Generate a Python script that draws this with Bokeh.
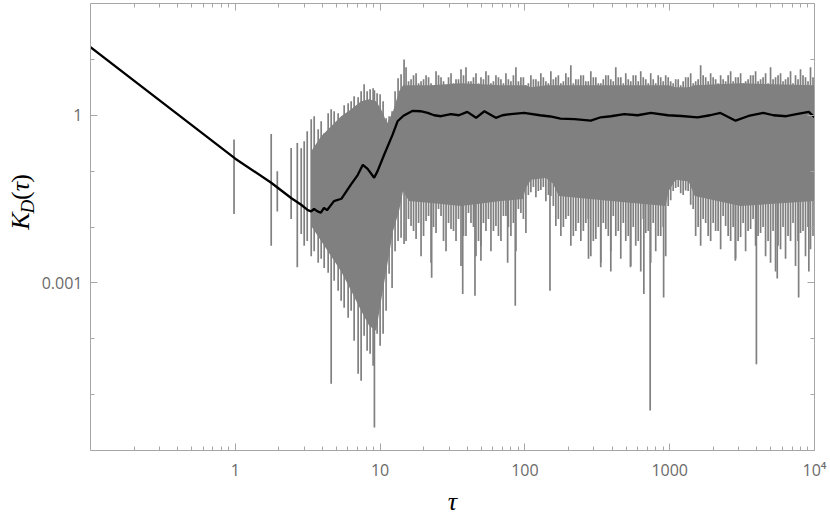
import math
from bokeh.plotting import figure
from bokeh.layouts import row
from bokeh.models import LogAxis, FixedTicker, Range1d, CustomJSTickFormatter
from bokeh.core.properties import value
from bokeh.embed import file_html
from bokeh.resources import INLINE

# ---- smoothed (black) curve K_D(tau) ----
avg_tau = [0.1, 0.3, 1.0, 1.77, 2.43, 2.85, 3.17, 3.34, 3.5, 3.7, 3.9, 4.1, 4.3, 4.8, 5.4,
           6.3, 7.0, 7.6, 8.2, 9.1, 9.6, 10.7, 12.2, 13.2, 14.5, 16.8, 19, 21.3, 23.6, 26.3,
           30.8, 35, 40, 46, 52.5, 63, 70, 80, 98.6, 127, 150, 176, 220, 285, 334, 392,
           485, 600, 742, 970, 1200, 1560, 1900, 2240, 2850, 3500, 4430, 5200, 6380, 7500,
           9130, 10000]
avg_K = [16.5, 1.85, 0.167, 0.062, 0.033, 0.025, 0.020, 0.019, 0.021, 0.019, 0.018, 0.022,
         0.020, 0.029, 0.032, 0.058, 0.085, 0.13, 0.11, 0.076, 0.10, 0.20, 0.45, 0.78, 0.98,
         1.2, 1.18, 1.1, 1.0, 0.96, 1.05, 1.0, 1.15, 0.9, 1.18, 0.9, 1.0, 1.05, 1.1, 1.0,
         0.95, 0.87, 0.85, 0.8, 0.92, 0.96, 1.05, 1.0, 1.1, 1.0, 0.97, 0.92, 1.0, 1.1, 0.8,
         0.97, 1.1, 1.0, 0.96, 1.05, 1.15, 0.92]

# ---- raw (gray) data: dense core of the fluctuations ----
band_tau = [3.344, 3.918, 4.594, 5.383, 6.31, 7.396, 8.40, 9.385, 10.16, 11.17, 12.29, 13.52,
            14.41, 15.8, 22.5, 36.2, 68.3, 96.9, 101.6, 110, 139.6, 156, 171.6, 392, 938, 984,
            1100, 1352, 1487, 3089, 10000]
band_hi = [0.228, 0.422, 0.637, 0.96, 1.28, 1.78, 1.93, 1.78, 1.28, 0.72, 1.18, 2.68, 3.43,
           3.43, 3.43, 3.73, 3.43, 3.43, 3.43, 3.16, 3.43, 3.43, 3.43, 3.43, 3.43, 3.43, 3.16,
           3.16, 3.43, 3.73, 3.43]
band_lo = [0.0104, 0.0056, 0.0030, 0.0016, 7.2e-4, 3.16e-4, 1.71e-4, 1.39e-4, 4.77e-4, 0.0020,
           0.0085, 0.0193, 0.0439, 0.0291, 0.0268, 0.0237, 0.0291, 0.0316, 0.050, 0.070, 0.075,
           0.060, 0.0358, 0.0291, 0.0237, 0.0439, 0.070, 0.065, 0.0358, 0.0237, 0.0291]

# ---- raw (gray) data: individual excursions (tau, low end, high end) ----
pre_tau = [0.98, 1.77, 1.95, 2.43, 2.68]
pre_lo = [0.017, 0.0046, 0.019, 0.0139, 0.0019]
pre_hi = [0.37, 0.46, 0.1, 0.26, 0.32]
rise_tau = [2.853, 2.991, 3.138, 3.344, 3.506, 3.737, 3.918, 4.110, 4.379, 4.594, 4.818, 5.133,
            5.383, 5.647, 6.016, 6.310, 6.618, 7.051, 7.396, 7.757, 8.136, 8.532, 8.949, 9.135,
            9.535, 10.0, 10.49, 11.0, 11.54, 12.1, 12.69, 13.31, 13.96, 14.64]
rise_hi = [0.257, 0.343, 0.518, 0.848, 0.960, 0.562, 0.781, 0.477, 1.086, 1.28, 1.18, 1.086,
           0.781, 1.51, 1.64, 1.78, 2.18, 2.10, 2.68, 3.58, 2.68, 2.91, 3.04, 2.79,
           2.47, 2.37, 1.78, 0.884, 0.960, 1.18, 2.68, 4.58, 5.40, 10.0]
rise_lo = [0.0075, 0.0046, 0.0056, 0.0030, 0.0037, 0.0023, 0.0027, 0.00185, 0.00151, 1.57e-5,
           0.00109, 7.2e-4, 4.77e-4, 3.58e-4, 2.37e-4, 3.16e-4, 9.2e-5, 2.37e-5, 1.78e-5,
           1.13e-4, 6.1e-5, 5.4e-5, 3.3e-5, 2.58e-6, 1.23e-4, 7.5e-5, 1.23e-4, 3.16e-4,
           1.45e-3, 8.1e-4, 0.0037, 0.0056, 0.0064, 0.00497]
plat_tau = [15.11, 16.36, 17.72, 19.18, 20.77, 22.48, 24.34, 26.35, 28.53, 30.89, 33.44, 36.20,
            39.19, 42.43, 45.94, 49.73, 53.83, 58.28, 63.10, 68.31, 73.95, 80.06, 86.68, 93.84,
            101.6, 110.0, 119.1, 128.9, 139.6, 151.1, 163.6, 177.2, 191.8, 207.6, 224.8, 243.4,
            263.5, 285.3, 308.9, 334.4, 362.0, 391.9, 424.3, 459.4, 497.3, 538.3, 582.8, 631.0,
            683.1, 739.5, 800.6, 866.8, 938.4, 1016, 1100, 1191, 1289, 1396, 1511, 1636, 1772,
            1918, 2076, 2248, 2434, 2635, 2853, 3089, 3344, 3620, 3919, 4243, 4594, 4973, 5383,
            5828, 6310, 6831, 7395, 8006, 8668, 9384]
plat_hi = [7.20, 4.39, 5.62, 4.05, 5.18, 3.73, 6.11, 4.77, 3.43, 5.62, 4.39, 6.63,
           7.20, 4.05, 5.62, 4.77, 6.11, 3.73, 5.18, 4.39, 5.62, 4.05, 7.20, 4.77,
           3.43, 5.18, 4.39, 5.62, 4.05, 6.11, 4.77, 3.73, 5.62, 7.81, 4.39, 5.18,
           4.05, 6.11, 4.77, 3.73, 5.18, 4.39, 7.20, 4.77, 5.62, 4.05, 5.18, 6.11,
           4.39, 5.62, 3.73, 4.77, 5.18, 4.05, 4.39, 3.43, 4.77, 5.62, 4.05, 7.81, 4.77,
           5.62, 4.39, 5.18, 4.05, 6.11, 4.77, 5.62, 4.05, 5.18, 6.11, 4.39, 5.62, 7.20, 4.77,
           5.62, 4.39, 6.11, 5.18, 6.63, 4.77, 7.20]
plat_lo = [0.0056, 0.0104, 0.0061, 0.0030, 0.0128, 0.0023, 0.0078, 0.0157, 0.0037, 0.0092,
           0.0056, 0.0020, 0.0069, 0.0118, 0.0030, 0.0046, 0.0085, 0.0037, 0.0104, 0.0056,
           0.0157, 0.0069, 0.0037, 0.0178, 0.0078, 0.0420, 0.0340, 0.0460, 0.0290, 0.0360,
           0.0104, 0.0069, 0.0139, 0.0046, 0.0085, 0.0056, 0.0118, 0.0030, 0.0061, 0.0023,
           0.0092, 0.0037, 0.0069, 0.0027, 0.0056, 0.0020, 0.0046, 0.0016, 0.0078, 0.0023,
           0.0037, 0.0069, 0.0030, 0.0300, 0.0500, 0.0400, 0.0450, 0.0250, 0.0069, 0.0046,
           0.0118, 0.0056, 0.0085, 0.0040, 0.0104, 0.0056, 0.0027, 0.0066, 0.0037, 0.0092,
           0.0046, 0.0078, 0.0030, 0.0023, 0.0016, 0.0040, 0.0027, 0.0056, 0.0020, 0.0078,
           0.0030, 0.0040]
# second, interleaved set of plateau excursions
plat2_tau = [15.72, 17.02, 18.44, 19.96, 21.61, 23.39, 25.33, 27.42, 29.69, 32.14, 34.79, 37.67,
             40.78, 44.15, 47.80, 51.74, 56.01, 60.64, 65.66, 71.08, 76.94, 83.30, 90.19, 97.64,
             105.7, 114.5, 123.9, 134.1, 145.3, 157.2, 170.2, 184.4, 199.6, 216.0, 233.9, 253.3,
             274.2, 296.9, 321.4, 347.9, 376.7, 407.8, 441.5, 478.0, 517.4, 560.1, 606.4, 656.6,
             710.8, 769.5, 833.0, 901.9, 976.4, 1057, 1145, 1239, 1341, 1453, 1572, 1702, 1844,
             1996, 2160, 2339, 2533, 2742, 2969, 3214, 3479, 3767, 4078, 4415, 4780, 5174, 5601,
             6064, 6566, 7108, 7695, 8330, 9019, 9764]
plat2_hi = [4.05, 5.18, 3.73, 4.39, 4.77, 3.43, 5.18, 4.05, 4.77, 3.73, 4.39, 5.18,
            4.05, 4.77, 3.73, 4.39, 5.18, 4.05, 4.77, 3.73, 4.39, 5.18, 4.05, 4.77,
            3.73, 4.39, 4.05, 4.77, 3.73, 4.39, 5.18, 4.05, 4.77, 3.73, 4.39, 5.18,
            4.05, 4.77, 3.73, 4.39, 5.18, 4.05, 4.77, 3.73, 4.39, 5.18, 4.05, 4.77,
            3.73, 4.39, 5.18, 4.05, 4.77, 3.73, 4.39, 4.05, 4.77, 3.73, 4.39, 5.18, 4.05,
            4.77, 3.73, 4.39, 5.18, 4.05, 4.77, 3.73, 4.39, 5.18, 4.05, 4.77, 3.73, 4.39, 5.18,
            4.05, 4.77, 3.73, 4.39, 5.18, 4.05, 4.77]
plat2_lo = [0.0139, 0.0085, 0.0118, 0.0069, 0.0157, 0.0100, 0.0210, 0.0056, 0.0118, 0.0085,
            0.0139, 0.0069, 0.0178, 0.0100, 0.0056, 0.0118, 0.0139, 0.0085, 0.0069, 0.0157,
            0.0100, 0.0118, 0.0210, 0.0139, 0.0373, 0.0518, 0.0439, 0.0518, 0.0373, 0.0237,
            0.0139, 0.0100, 0.0157, 0.0069, 0.0118, 0.0085, 0.0139, 0.0056, 0.0100, 0.0118,
            0.0069, 0.0157, 0.0085, 0.0118, 0.0069, 0.0100, 0.0056, 0.0139, 0.0085, 0.0118,
            0.0069, 0.0100, 0.0237, 0.0439, 0.0518, 0.0373, 0.0439, 0.0210, 0.0100, 0.0139,
            0.0069, 0.0118, 0.0085, 0.0157, 0.0069, 0.0100, 0.0056, 0.0118, 0.0085, 0.0139,
            0.0069, 0.0100, 0.0056, 0.0085, 0.0046, 0.0100, 0.0069, 0.0118, 0.0056, 0.0085,
            0.0100, 0.0069]
deep_tau = [22.7, 37.2, 45.2, 49.7, 76, 85.8, 149, 275, 334, 392, 536, 663, 733, 908, 2840,
            3970, 5530, 7770, 9140]
deep_lo = [0.00124, 6.3e-4, 5.9e-4, 0.0025, 0.0023, 3.9e-4, 7.2e-4, 0.0027, 0.0019, 0.0016,
           0.0019, 6.3e-4, 5.2e-6, 5.5e-4, 0.0025, 3.5e-5, 0.0012, 5.5e-4, 0.0016]

# ---- ticks ----
x_ticks = [1, 10, 100, 1000, 10000]
x_tick_labels = ["1", "10", "100", "1000", "10\u2074"]
y_ticks = [0.001, 1]
y_tick_labels = ["0.001", "1"]
x_minor = [k * 10.0 ** e for e in range(-1, 4) for k in range(2, 10)]
y_minor = [1e-5, 1e-4, 0.01, 0.1, 10]

GRAY = "#808080"
FRAME = "#a6a6a6"
LABEL = "#6a6a6a"
SERIF = "Liberation Serif"

p = figure(width=794, height=518, x_axis_type="log", y_axis_type="log",
           x_range=Range1d(0.1, 1e4), y_range=Range1d(1e-6, 100),
           output_backend="svg", toolbar_location=None,
           min_border_left=54, min_border_right=16, min_border_top=3, min_border_bottom=68)
p.grid.visible = False
p.outline_line_color = None

p.varea(x=band_tau, y1=band_lo, y2=band_hi, fill_color=GRAY, fill_alpha=1.0)
sp_tau = pre_tau + rise_tau + plat_tau + plat2_tau + deep_tau
sp_lo = pre_lo + rise_lo + plat_lo + plat2_lo + deep_lo
sp_hi = pre_hi + rise_hi + plat_hi + plat2_hi + [0.5] * len(deep_tau)
p.segment(x0=sp_tau, y0=sp_lo, x1=sp_tau, y1=sp_hi, line_color=GRAY, line_width=1.7)
p.line(avg_tau, avg_K, line_color="black", line_width=2.3)

def fmt(tks, labels):
    return CustomJSTickFormatter(args=dict(tk=tks, lb=labels), code="""
        for (let i = 0; i < tk.length; i++) {
            if (Math.abs(Math.log10(tk[i]) - Math.log10(tick)) < 1e-6) return lb[i];
        }
        return "";
    """)

def style(ax, show_labels):
    ax.axis_line_color = FRAME
    ax.axis_line_width = 1
    ax.major_tick_line_color = FRAME
    ax.minor_tick_line_color = FRAME
    ax.major_tick_in = 7
    ax.major_tick_out = 0
    ax.minor_tick_in = 4
    ax.minor_tick_out = 0
    ax.major_label_text_color = LABEL
    ax.major_label_text_font = "Open Sans"
    if show_labels:
        ax.major_label_text_font_size = "16px"
        ax.major_label_standoff = 8
    else:
        ax.major_label_text_font_size = "0px"
        ax.major_label_standoff = 0

xb = p.xaxis[0]
xb.ticker = FixedTicker(ticks=x_ticks, minor_ticks=x_minor)
xb.formatter = fmt(x_ticks, x_tick_labels)
style(xb, True)
xb.axis_label = "\u03c4"
xb.axis_label_text_font = SERIF
xb.axis_label_text_font_style = "italic"
xb.axis_label_text_font_size = "26px"
xb.axis_label_text_color = "black"
xb.axis_label_standoff = 3

yl = p.yaxis[0]
yl.ticker = FixedTicker(ticks=y_ticks, minor_ticks=y_minor)
yl.formatter = fmt(y_ticks, y_tick_labels)
style(yl, True)

xt = LogAxis(ticker=FixedTicker(ticks=x_ticks, minor_ticks=x_minor),
             formatter=fmt(x_ticks, ["", "", "", "", ""]))
style(xt, False)
p.add_layout(xt, "above")

yr = LogAxis(ticker=FixedTicker(ticks=y_ticks, minor_ticks=y_minor),
             formatter=fmt(y_ticks, ["", ""]))
style(yr, False)
p.add_layout(yr, "right")

# narrow panel carrying the rotated y-axis title K_D(tau); its data units are pixels
lab = figure(width=36, height=518, x_range=Range1d(0, 36), y_range=Range1d(0, 518),
             output_backend="svg", toolbar_location=None,
             x_axis_location=None, y_axis_location=None, min_border=0)
lab.grid.visible = False
lab.outline_line_color = None
ang = math.pi / 2
for txt, xx, yy, size, st in [("K", 20, 266, "26px", "italic"),
                              ("D", 26.5, 282.5, "19px", "italic"),
                              ("(", 20, 295.3, "26px", "normal"),
                              ("\u03c4", 20, 305.7, "26px", "italic"),
                              (")", 20, 315.3, "26px", "normal")]:
    lab.text(x=[xx], y=[yy], text=[txt], angle=ang, text_align="center",
             text_baseline="middle", text_font=value(SERIF), text_font_style=value(st),
             text_font_size=value(size), text_color="black")

open("out.html", "w").write(file_html(row(lab, p), INLINE))
